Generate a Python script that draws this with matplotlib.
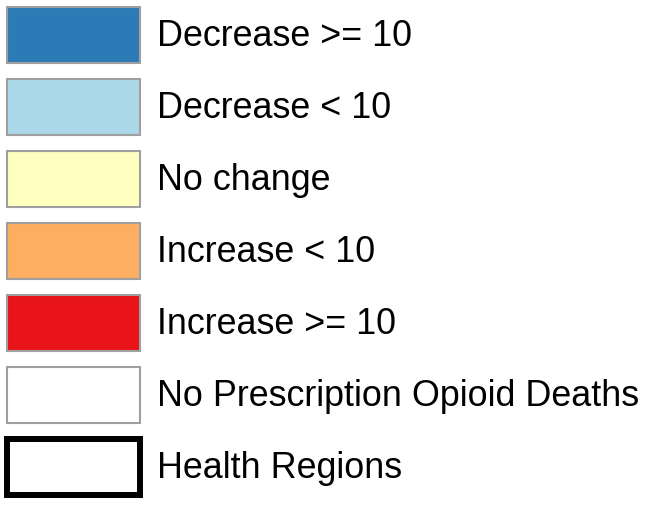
import matplotlib
matplotlib.use('Agg')
import matplotlib.pyplot as plt

labels = ['Decrease >= 10', 'Decrease < 10', 'No change', 'Increase < 10',
          'Increase >= 10', 'No Prescription Opioid Deaths', 'Health Regions']
colors = ['#2c7bb6', '#abd9e9', '#ffffbf', '#fdae61', '#e8141a', '#ffffff', '#ffffff']
edges = ['#a0a0a0'] * 6 + ['#000000']
widths = [1.5] * 6 + [4.3]

plt.rcParams['font.family'] = ['Liberation Sans', 'DejaVu Sans']
fig = plt.figure(figsize=(6.54, 5.08), dpi=100)
ax = fig.add_axes([0, 0, 1, 1])
ax.set_xlim(0, 654)
ax.set_ylim(508, 0)
ax.axis('off')

centers = [35 + 72 * i for i in range(len(labels))]
ax.barh(centers, 133, left=7, height=56, color=colors, edgecolor=edges, linewidth=widths)
for y, lab in zip(centers, labels):
    ax.text(157, y + 1, lab, fontsize=25.8, va='center', ha='left', color='black')

fig.savefig('out.png', dpi=100)
